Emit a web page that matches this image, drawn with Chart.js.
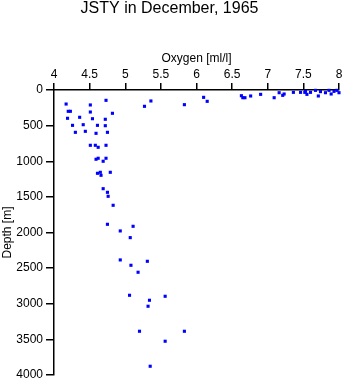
<!DOCTYPE html>
<html>
<head>
<meta charset="utf-8">
<title>JSTY in December, 1965</title>
<script src="https://cdn.jsdelivr.net/npm/chart.js@4/dist/chart.umd.min.js"></script>
<style>
  html, body { margin: 0; padding: 0; background: #fff; }
  #wrap { width: 345px; height: 384px; }
</style>
</head>
<body>
<div id="wrap"><canvas id="chart" width="345" height="384"></canvas></div>
<script>
// oxygen [ml/l] and depth [m] for each sample
const oxygen = [
    4.17, 4.51, 4.73, 5.36, 5.27, 5.83, 4.20, 4.23, 4.51, 4.82,
    4.19, 4.36, 4.54, 4.72, 4.26, 4.41, 4.61, 4.72, 4.30, 4.44,
    4.59, 4.75, 4.51, 4.58, 4.62, 4.73, 4.59, 4.62, 4.73, 4.69,
    4.61, 4.65, 4.66, 4.79, 4.69, 4.75, 4.76, 4.83, 4.75, 5.11,
    4.93, 5.07, 4.93, 5.31, 5.08, 5.18, 5.06, 5.34, 5.56, 5.32,
    5.20, 5.83, 5.56, 5.35,
    6.10, 6.15, 6.63, 6.65, 6.68, 6.76, 6.90, 7.09, 7.16, 7.21,
    7.23, 7.36, 7.46, 7.53, 7.52, 7.55, 7.60, 7.67, 7.71, 7.74,
    7.81, 7.86, 7.89, 7.93, 7.97, 8.00
];
const depth = [
    197, 210, 145, 154, 229, 206, 299, 299, 309, 327,
    397, 383, 403, 411, 496, 487, 496, 501, 594, 580,
    608, 594, 776, 776, 804, 776, 972, 958, 958, 1000,
    1169, 1155, 1197, 1155, 1385, 1436, 1492, 1618, 1885, 1913,
    1978, 2072, 2385, 2404, 2460, 2558, 2881, 2951, 2895, 3035,
    3386, 3386, 3526, 3877,
    103, 159, 80, 108, 108, 84, 61, 108, 38, 75,
    56, 33, 33, 19, 33, 61, 33, 5, 84, 23,
    38, 5, 56, 19, 5, 38
];
const oxygenTicks = [4, 4.5, 5, 5.5, 6, 6.5, 7, 7.5, 8];
const depthTicks = [0, 500, 1000, 1500, 2000, 2500, 3000, 3500, 4000];

const FONT = "'Liberation Sans', Arial, Helvetica, sans-serif";
const points = oxygen.map((o, i) => ({ x: o, y: depth[i] }));

new Chart(document.getElementById("chart"), {
    type: "scatter",
    data: {
        datasets: [{
            data: points,
            pointStyle: "rect",
            pointRadius: 2.2,
            pointHoverRadius: 2.2,
            pointBorderWidth: 0,
            backgroundColor: "#0000ff",
            borderColor: "#0000ff",
            clip: false
        }]
    },
    options: {
        responsive: false,
        animation: false,
        devicePixelRatio: 1,
        layout: { padding: { left: 0, right: 6, top: 0, bottom: 9 } },
        plugins: {
            legend: { display: false },
            tooltip: { enabled: false },
            title: {
                display: true,
                text: "JSTY in December, 1965",
                color: "#000",
                font: { family: FONT, size: 16, weight: "normal", lineHeight: 1.1 },
                padding: { top: 0, bottom: 0 }
            }
        },
        scales: {
            x: {
                type: "linear",
                position: "top",
                min: 4, max: 8,
                afterBuildTicks: s => { s.ticks = oxygenTicks.map(v => ({ value: v })); },
                afterFit: s => { s.height = 72.4; s.paddingLeft = 0; s.paddingRight = 0; },
                ticks: { color: "#000", padding: 1, maxRotation: 0, font: { family: FONT, size: 12 }, callback: v => String(v) },
                grid: { drawOnChartArea: false, drawTicks: true, tickLength: 7, color: "#000", lineWidth: 1.5 },
                border: { display: true, color: "#000", width: 1.5 },
                title: { display: true, text: "Oxygen [ml/l]", color: "#000", padding: { top: 34, bottom: 0 }, font: { family: FONT, size: 12 } }
            },
            y: {
                type: "linear",
                reverse: true,
                min: 0, max: 4000,
                afterBuildTicks: s => { s.ticks = depthTicks.map(v => ({ value: v })); },
                afterFit: s => { s.width = 54; s.paddingTop = 0; s.paddingBottom = 0; },
                ticks: { color: "#000", padding: 3, font: { family: FONT, size: 12 }, callback: v => String(v) },
                grid: { drawOnChartArea: false, drawTicks: true, tickLength: 8, color: "#000", lineWidth: 1.5 },
                border: { display: true, color: "#000", width: 1.5 },
                title: { display: true, text: "Depth [m]", color: "#000", padding: { top: 0, bottom: 0 }, font: { family: FONT, size: 12 } }
            }
        }
    }
});
</script>
</body>
</html>
